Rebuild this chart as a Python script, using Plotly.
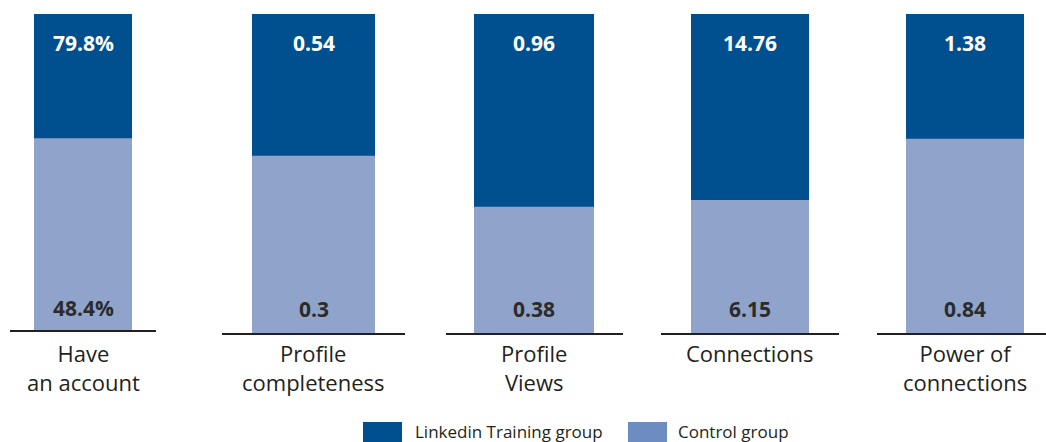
import plotly.graph_objects as go

W, H = 1046, 442

categories = ["Have<br>an account", "Profile<br>completeness", "Profile<br>Views", "Connections", "Power of<br>connections"]
training = [79.8, 0.54, 0.96, 14.76, 1.38]
control = [48.4, 0.3, 0.38, 6.15, 0.84]
training_labels = ["79.8%", "0.54", "0.96", "14.76", "1.38"]
control_labels = ["48.4%", "0.3", "0.38", "6.15", "0.84"]
series_names = ["Linkedin Training group", "Control group"]

DARK = "#00508F"
LIGHT = "#8FA3CB"
LEGEND_LIGHT = "#6D8CBF"
TXT = "#231F20"
FONT = "Open Sans, Lato, sans-serif"

# pixel layout: (axis-line left, axis-line right, bar left, bar right, baseline y)
panels_px = [
    (10, 156, 34, 132, 330),
    (222, 405, 252, 375, 333),
    (446, 623, 474, 594, 333),
    (661, 839, 691, 809, 333),
    (877, 1046, 906, 1024, 333),
]
TOP_PX = 14

fig = go.Figure()
layout = dict(
    width=W, height=H,
    margin=dict(l=0, r=0, t=0, b=0),
    paper_bgcolor="white", plot_bgcolor="white",
    barmode="overlay", showlegend=False,
    font=dict(family=FONT, color=TXT),
)
annotations = []

for i, (a, b, c, d, base) in enumerate(panels_px):
    n = "" if i == 0 else str(i + 1)
    xa, ya = "x" + n, "y" + n
    bw = d - c
    xr = [-0.5 - (c - a) / bw, 0.5 + (b - d) / bw]
    layout["xaxis" + n] = dict(
        domain=[a / W, b / W], range=xr, anchor=ya,
        showline=True, linecolor="#231F20", linewidth=1.5,
        showgrid=False, zeroline=False, showticklabels=False, ticks="",
        fixedrange=True,
    )
    layout["yaxis" + n] = dict(
        domain=[1 - base / H, 1 - TOP_PX / H], range=[0, training[i]], anchor=xa,
        visible=False, showgrid=False, zeroline=False, fixedrange=True,
    )
    fig.add_trace(go.Bar(x=[0], y=[training[i]], width=[1], marker=dict(color=DARK, line=dict(width=0)),
                         name=series_names[0], xaxis=xa, yaxis=ya, hoverinfo="skip"))
    fig.add_trace(go.Bar(x=[0], y=[control[i]], width=[1], marker=dict(color=LIGHT, line=dict(width=0)),
                         name=series_names[1], xaxis=xa, yaxis=ya, hoverinfo="skip"))
    annotations.append(dict(x=0, y=training[i], xref=xa, yref=ya, text="<b>%s</b>" % training_labels[i],
                            showarrow=False, yanchor="middle", yshift=-29,
                            font=dict(size=21, color="white", family=FONT)))
    annotations.append(dict(x=0, y=0, xref=xa, yref=ya, text="<b>%s</b>" % control_labels[i],
                            showarrow=False, yanchor="middle", yshift=22 if i == 0 else 24,
                            font=dict(size=21, color="#2B2B2B", family=FONT)))
    annotations.append(dict(x=0, y=0, xref=xa, yref=ya, text=categories[i],
                            showarrow=False, yanchor="top", yshift=-6 if i == 0 else -3,
                            font=dict(size=22, color=TXT, family=FONT)))

# legend
leg = [(363, 402, 413, DARK, series_names[0]), (628, 667, 676, LEGEND_LIGHT, series_names[1])]
shapes = []
for x0, x1, tx, col, name in leg:
    shapes.append(dict(type="rect", xref="paper", yref="paper", x0=x0 / W, x1=x1 / W,
                       y0=0, y1=1 - 422 / H, fillcolor=col, line=dict(width=0)))
    annotations.append(dict(x=tx / W, y=1 - 431 / H, xref="paper", yref="paper", text=name,
                            showarrow=False, xanchor="left", yanchor="middle",
                            font=dict(size=17, color=TXT, family=FONT)))

layout["annotations"] = annotations
layout["shapes"] = shapes
fig.update_layout(**layout)
fig.write_html("out.html", config={"displayModeBar": False},
               post_script="document.body.style.margin='0px';document.body.style.overflow='hidden';")
